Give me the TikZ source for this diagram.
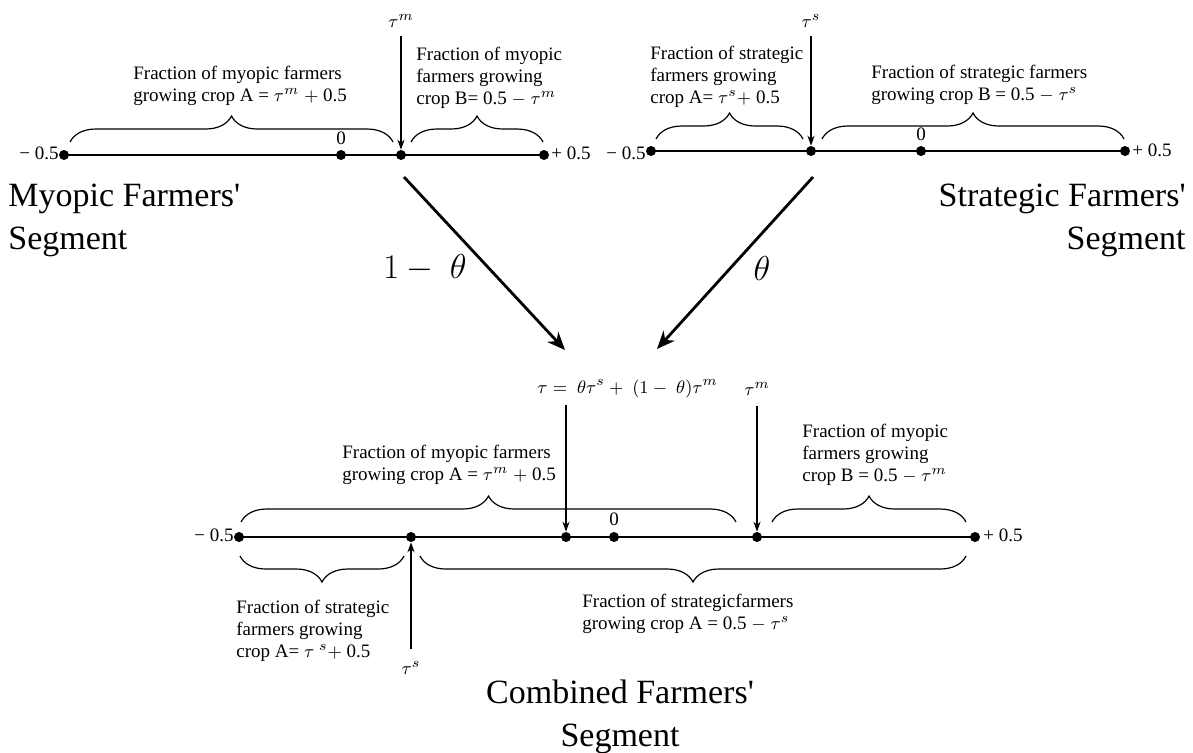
\documentclass[tikz,border=0pt]{standalone}
\usepackage{fontspec}
\setmainfont{Liberation Serif}
\usetikzlibrary{arrows.meta,decorations.pathreplacing}
\begin{document}
\begin{tikzpicture}[x=0.5pt,y=-0.5pt,
  dot/.style={circle,fill=black,inner sep=0pt,minimum size=5pt},
  nline/.style={line width=1pt},
  small/.style={font=\fontsize{9.5}{11}\selectfont,align=left,inner sep=0pt},
  num/.style={font=\fontsize{9.5}{11}\selectfont,inner sep=0pt},
  big/.style={font=\fontsize{17}{21.5}\selectfont,inner sep=0pt},
  sarrow/.style={line width=0.6pt,-{Stealth[length=5pt,width=3.6pt]}},
  barrow/.style={line width=1.4pt,-{Stealth[length=9pt,width=7.5pt]}},
  brace/.style={decorate,decoration={brace,amplitude=13pt},line width=0.6pt},
  mbrace/.style={decorate,decoration={brace,mirror,amplitude=13pt},line width=0.6pt}
]
\useasboundingbox (0,0) rectangle (1193,752);

% ---------- Myopic segment ----------
\node[dot] (m1) at (64,155) {};
\node[dot] (m0) at (341,155) {};
\node[dot] (mt) at (401,155) {};
\node[dot] (m2) at (544,155) {};
\draw[nline] (m1.center) -- (m2.center);
\node[num,anchor=east] (ml1) at (59,153) {− 0.5};
\node[num,anchor=west] (ml2) at (551,153) {+ 0.5};
\node[num] (ml0) at (341,138) {0};
\node[num] (tm) at (401,21) {$\tau^m$};
\draw[sarrow,shorten <=4pt] (tm) -- (mt);
\draw[brace] (70,142) -- (393,142);
\draw[brace] (411,142) -- (543,142);
\node[small,anchor=north west] (mtA) at (133,66) {Fraction of myopic farmers\\growing crop A = $\tau^m\ +\ $0.5};
\node[small,anchor=north west] (mtB) at (416,47) {Fraction of myopic\\farmers growing\\crop B= 0.5 $-\ \tau^m$};
\node[big,align=left,anchor=north west] (myo) at (8,184) {Myopic Farmers\textquotesingle\\Segment};

% ---------- Strategic segment ----------
\node[dot] (s1) at (651,151) {};
\node[dot] (st) at (811,151) {};
\node[dot] (s0) at (921,151) {};
\node[dot] (s2) at (1125,151) {};
\draw[nline] (s1.center) -- (s2.center);
\node[num,anchor=east] (sl1) at (646,153) {− 0.5};
\node[num,anchor=west] (sl2) at (1132,150) {+ 0.5};
\node[num] (sl0) at (921,134) {0};
\node[num] (ts) at (811,21) {$\tau^s$};
\draw[sarrow,shorten <=4pt] (ts) -- (st);
\draw[brace] (656,139) -- (803,139);
\draw[brace] (822,139) -- (1124,139);
\node[small,anchor=north west] (stA) at (650,46) {Fraction of strategic\\farmers growing\\crop A= $\tau^s +\ $0.5};
\node[small,anchor=north west] (stB) at (871,65) {Fraction of strategic farmers\\growing crop B = 0.5 $-\ \tau^s$};
\node[big,align=right,anchor=north east] (str) at (1186,184) {Strategic Farmers\textquotesingle\\Segment};

% ---------- weights ----------
\coordinate (a1s) at (404,177);
\coordinate (a1e) at (565,350);
\coordinate (a2s) at (813,177);
\coordinate (a2e) at (657,349);
\draw[barrow] (a1s) -- (a1e);
\draw[barrow] (a2s) -- (a2e);
\node[big] (w1) at (425,268) {$1-\ \theta$};
\node[big] (w2) at (762,268) {$\theta$};

% ---------- Combined segment ----------
\node[dot] (c1) at (239,537) {};
\node[dot] (cs) at (411,537) {};
\node[dot] (ct) at (566,537) {};
\node[dot] (c0) at (614,537) {};
\node[dot] (cm) at (757,537) {};
\node[dot] (c2) at (975,537) {};
\draw[nline] (c1.center) -- (c2.center);
\node[num,anchor=east] (cl1) at (234,535) {− 0.5};
\node[num,anchor=west] (cl2) at (983,535) {+ 0.5};
\node[num] (cl0) at (614,519) {0};
\node[num,anchor=west] (teq) at (537,389) {$\tau=\ \theta\tau^s+\ (1-\ \theta)\tau^m$};
\coordinate (ctop) at (566,405);
\draw[sarrow] (ctop) -- (ct);
\node[num] (tm2) at (757,389) {$\tau^m$};
\draw[sarrow,shorten <=5pt] (tm2) -- (cm);
\node[num] (ts2) at (411,668) {$\tau^s$};
\draw[sarrow,shorten <=6pt] (ts2) -- (cs);
\draw[brace] (241,522) -- (736,522);
\draw[brace] (772,522) -- (966,522);
\draw[mbrace] (240,556) -- (404,556);
\draw[mbrace] (420,556) -- (966,556);
\node[small,anchor=north west] (ctA) at (342,445) {Fraction of myopic farmers\\growing crop A = $\tau^m\ +\ $0.5};
\node[small,anchor=north west] (ctB) at (802,424) {Fraction of myopic\\farmers growing\\crop B = 0.5 $-\ \tau^m$};
\node[small,anchor=north west] (cbA) at (236,600) {Fraction of strategic\\farmers growing\\crop A= $\tau\ ^s +\ $0.5};
\node[small,anchor=north west] (cbB) at (582,594) {Fraction of strategicfarmers\\growing crop A = 0.5 $-\ \tau^s$};
\node[big,align=center,anchor=north] (comb) at (620,679) {Combined Farmers\textquotesingle\\Segment};
\end{tikzpicture}
\end{document}
